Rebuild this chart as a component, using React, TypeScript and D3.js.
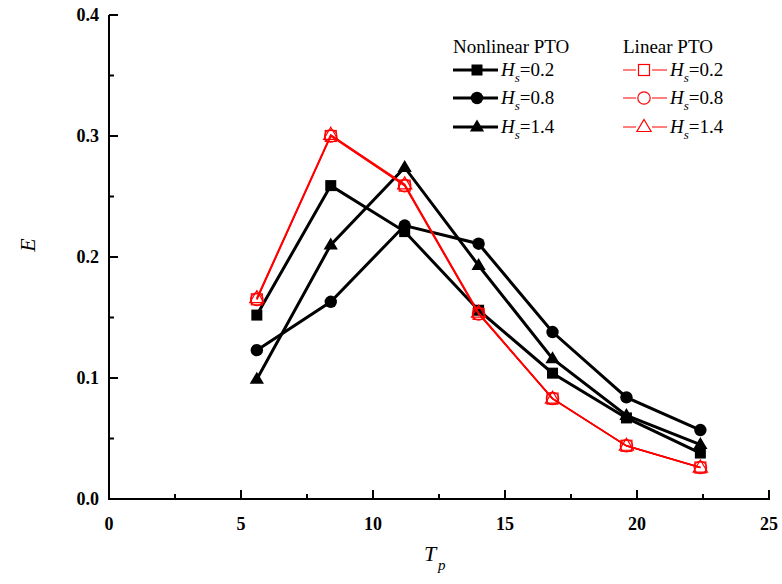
import React from "react";
import * as d3 from "d3";

const tp = [5.6, 8.4, 11.2, 14, 16.8, 19.6, 22.4];
const nlHs02 = [0.152, 0.259, 0.221, 0.156, 0.104, 0.067, 0.038];
const nlHs08 = [0.123, 0.163, 0.226, 0.211, 0.138, 0.084, 0.057];
const nlHs14 = [0.099, 0.21, 0.274, 0.193, 0.116, 0.069, 0.045];
const linHs02 = [0.165, 0.3, 0.259, 0.153, 0.083, 0.044, 0.026];
const linHs08 = [0.165, 0.3, 0.259, 0.153, 0.083, 0.044, 0.026];
const linHs14 = [0.166, 0.301, 0.26, 0.154, 0.083, 0.044, 0.026];
const xTicks = [0, 5, 10, 15, 20, 25];
const xMinor = [2.5, 7.5, 12.5, 17.5, 22.5];
const yTicks = [0, 0.1, 0.2, 0.3, 0.4];
const yMinor = [0.05, 0.15, 0.25, 0.35];
const hsLabels = ["0.2", "0.8", "1.4"];

type Shape = "square" | "circle" | "triangle";

const W = 782, H = 584;
const x = d3.scaleLinear().domain([0, 25]).range([109, 769]);
const y = d3.scaleLinear().domain([0, 0.4]).range([499, 15]);

function Marker({ shape, cx, cy, filled, color }: { shape: Shape; cx: number; cy: number; filled: boolean; color: string }) {
  const sw = filled ? 0 : 1.2;
  const fill = filled ? color : "none";
  if (shape === "square") {
    const s = 11;
    return <rect x={cx - s / 2} y={cy - s / 2} width={s} height={s} fill={fill} stroke={color} strokeWidth={sw} />;
  }
  if (shape === "circle") {
    return <circle cx={cx} cy={cy} r={6.2} fill={fill} stroke={color} strokeWidth={sw} />;
  }
  const r = 7.5;
  const pts = [
    [cx, cy - r],
    [cx + r * 0.95, cy + r * 0.6],
    [cx - r * 0.95, cy + r * 0.6],
  ];
  return <polygon points={pts.map((p) => p.join(",")).join(" ")} fill={fill} stroke={color} strokeWidth={sw} />;
}

export default function App() {
  const line = d3
    .line<number>()
    .x((_, i) => x(tp[i]))
    .y((d) => y(d));

  const nonlinear: { data: number[]; shape: Shape }[] = [
    { data: nlHs02, shape: "square" },
    { data: nlHs08, shape: "circle" },
    { data: nlHs14, shape: "triangle" },
  ];
  const linear: { data: number[]; shape: Shape }[] = [
    { data: linHs02, shape: "square" },
    { data: linHs08, shape: "circle" },
    { data: linHs14, shape: "triangle" },
  ];

  const font = "'Liberation Serif', 'Times New Roman', serif";
  const legendRows = [70, 98, 127];

  return (
    <svg width={W} height={H} style={{ position: "absolute", left: 0, top: 0, background: "white" }} fontFamily={font}>
      <rect width={W} height={H} fill="white" />
      <line x1={x(0)} x2={x(0)} y1={y(0.4)} y2={y(0) + 1} stroke="black" strokeWidth={2} />
      <line x1={x(0) - 1} x2={x(25) + 1} y1={y(0)} y2={y(0)} stroke="black" strokeWidth={2} />
      {yTicks.map((t) => (
        <g key={"yt" + t}>
          <line x1={x(0)} x2={x(0) + 9} y1={y(t)} y2={y(t)} stroke="black" strokeWidth={2} />
          <text x={x(0) - 10} y={y(t)} dy="0.35em" textAnchor="end" fontWeight="bold" fontSize={18}>
            {t.toFixed(1)}
          </text>
        </g>
      ))}
      {yMinor.map((t) => (
        <line key={"ym" + t} x1={x(0)} x2={x(0) + 5} y1={y(t)} y2={y(t)} stroke="black" strokeWidth={2} />
      ))}
      {xTicks.map((t) => (
        <g key={"xt" + t}>
          <line x1={x(t)} x2={x(t)} y1={y(0)} y2={y(0) - 9} stroke="black" strokeWidth={2} />
          <text x={x(t)} y={y(0) + 31} textAnchor="middle" fontWeight="bold" fontSize={18}>
            {t}
          </text>
        </g>
      ))}
      {xMinor.map((t) => (
        <line key={"xm" + t} x1={x(t)} x2={x(t)} y1={y(0)} y2={y(0) - 5} stroke="black" strokeWidth={2} />
      ))}
      <text transform={`translate(35,245) rotate(-90)`} textAnchor="middle" fontStyle="italic" fontSize={22}>
        E
      </text>
      <text x={424} y={561} fontStyle="italic" fontSize={22}>
        T
      </text>
      <text x={438} y={570} fontStyle="italic" fontSize={15}>
        p
      </text>

      {nonlinear.map((s, k) => (
        <path key={"nl" + k} d={line(s.data) || ""} fill="none" stroke="black" strokeWidth={3} />
      ))}
      {nonlinear.map((s, k) => (
        <g key={"nlm" + k}>
          {s.data.map((v, i) => (
            <Marker key={i} shape={s.shape} cx={x(tp[i])} cy={y(v)} filled color="black" />
          ))}
        </g>
      ))}
      {linear.map((s, k) => (
        <g key={"l" + k}>
          <path d={line(s.data) || ""} fill="none" stroke="#ff0000" strokeWidth={1.5} />
          {s.data.map((v, i) => (
            <Marker key={i} shape={s.shape} cx={x(tp[i])} cy={y(v)} filled={false} color="#ff0000" />
          ))}
        </g>
      ))}

      <text x={453} y={53} fontSize={19}>Nonlinear PTO</text>
      <text x={623} y={53} fontSize={19}>Linear PTO</text>
      {nonlinear.map((s, k) => (
        <g key={"lg" + k}>
          <line x1={453} x2={498} y1={legendRows[k]} y2={legendRows[k]} stroke="black" strokeWidth={3} />
          <Marker shape={s.shape} cx={477} cy={legendRows[k]} filled color="black" />
          <text x={501} y={legendRows[k] + 6} fontSize={19}>
            <tspan fontStyle="italic">H</tspan>
            <tspan fontStyle="italic" fontSize={13} dy={6}>s</tspan>
            <tspan dy={-6}>=</tspan>
            <tspan>{hsLabels[k]}</tspan>
          </text>
        </g>
      ))}
      {linear.map((s, k) => (
        <g key={"lgl" + k}>
          <line x1={623} x2={667} y1={legendRows[k]} y2={legendRows[k]} stroke="#ff0000" strokeWidth={1.2} />
          <rect x={636} y={legendRows[k] - 7} width={16} height={14} fill="white" />
          <Marker shape={s.shape} cx={644} cy={legendRows[k]} filled={false} color="#ff0000" />
          <text x={670} y={legendRows[k] + 6} fontSize={19}>
            <tspan fontStyle="italic">H</tspan>
            <tspan fontStyle="italic" fontSize={13} dy={6}>s</tspan>
            <tspan dy={-6}>=</tspan>
            <tspan>{hsLabels[k]}</tspan>
          </text>
        </g>
      ))}
    </svg>
  );
}
